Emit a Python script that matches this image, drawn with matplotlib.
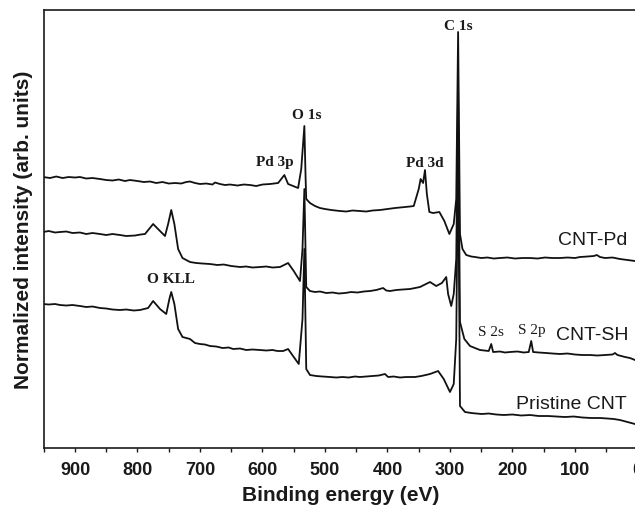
import matplotlib
matplotlib.use("Agg")
import matplotlib.pyplot as plt
from matplotlib.ticker import MultipleLocator

# ---- data (binding energy in eV, normalized intensity in arb. units) ----
pd_energy = [951, 940, 930, 920, 910, 900, 892, 882, 872, 860, 850, 840, 830, 820, 812,
             800, 790, 780, 770, 760, 750, 740, 730, 722, 716, 708, 700, 690, 680, 676,
             668, 660, 652, 640, 630, 620, 610, 600, 588, 575,
             565, 559, 551, 543, 538, 533, 531, 530,
             524, 516, 508, 500, 490, 476, 466, 456, 444, 434, 424, 412, 400, 388, 380,
             372, 364, 358,
             350, 347, 343, 340, 337, 333, 327, 317, 309, 301, 294, 290, 287, 284, 280,
             274, 266, 260, 250, 240, 230, 220, 208, 196, 184, 172, 160, 148, 136, 124,
             112, 100, 92, 80, 70, 65, 60, 52, 40, 28, 16, 4]
pd_intensity = [271, 270, 271.5, 270, 271, 270.5, 271, 269.5, 270, 269, 268, 267.5, 268.5, 267, 268,
                267, 266, 266.5, 265, 266, 264.5, 265, 264.5, 266, 266.5, 265, 264, 264.5, 263.5, 265.5,
                264, 263, 263.5, 262.5, 263.5, 263, 262, 263.5, 264, 265,
                273, 264, 262, 260, 279, 322, 269, 249,
                245, 242, 240, 239, 238, 237, 236.5, 237.5, 237, 236.5, 237.5, 238, 239, 240, 240.5,
                241, 241.5, 242,
                259, 269, 265, 278, 254, 236, 235, 236, 227, 214, 224, 249, 416, 214, 199,
                193, 191.5, 191, 190, 190.5, 189.5, 190, 190.5, 189.5, 190, 190, 189.5, 190.5, 190, 190,
                190.5, 190, 191, 191.5, 192, 193, 191, 190, 190.5, 189, 188, 187]

sh_energy = [951, 942, 932, 924, 914, 904, 892, 882, 872, 860, 850, 840, 828, 818, 804,
             795, 788, 775, 764, 756, 751, 746, 741, 735, 728,
             716, 706, 696, 684, 672, 662, 650, 636, 626, 616, 604, 594, 584, 572,
             559, 550, 540, 536, 533, 530,
             524, 516, 508, 498, 488, 478, 468, 458, 448, 438, 428, 418, 407, 402, 396,
             386, 376, 364, 356, 348,
             332, 322, 313, 306, 303, 298, 294, 290, 287, 284, 277, 268, 252, 238, 234,
             231, 220, 212, 204, 192, 182, 174, 170, 167, 158, 146, 136, 124, 112, 100,
             88, 76, 64, 52, 40, 36, 32, 20, 12, 4]
sh_intensity = [216, 217, 215.5, 216, 216.5, 215, 215.5, 214, 215, 214, 213, 214, 213, 212, 212.5,
                213.5, 214, 224, 217, 212, 224, 238, 224, 199, 190,
                186, 185, 184.5, 184, 183, 183.5, 182, 181, 181.5, 180.5, 181, 181.5, 180.5, 181,
                185, 177, 167, 199, 259, 161,
                157, 156, 156.5, 155, 155.5, 154.5, 155, 156, 155.5, 156.5, 157, 158, 160, 157.5, 157,
                158, 158.5, 159, 160, 161,
                166, 162, 165, 171, 154, 142, 154, 189, 359, 126, 109, 102, 98, 97, 104,
                96, 96.5, 95.5, 96, 96.5, 95.5, 96, 107, 96, 95.5, 95, 94.5, 94, 94.5, 93.5,
                93, 93, 92.5, 93, 93.5, 95, 93, 91, 90, 88]

pr_energy = [951, 942, 932, 924, 914, 904, 892, 882, 872, 860, 850, 840, 828, 818, 806,
             796, 783, 775, 764, 754, 749, 746, 741, 735, 728,
             716, 712, 708, 700, 692, 684, 674, 664, 654, 647, 636, 626, 616, 604, 594,
             584, 576, 567, 559, 550, 542, 536, 533, 530,
             524, 514, 504, 492, 482, 472, 462, 452, 444, 434, 424, 414, 404, 399, 390,
             380, 370, 356, 346, 332,
             319, 310, 300, 294, 290, 287, 284,
             276, 266, 258, 249, 238, 226, 214, 200, 186, 172, 158, 143, 130, 116, 102,
             88, 74, 60, 48, 38, 28, 16, 4]
pr_intensity = [144, 143.5, 144, 143, 142.5, 143, 142, 141, 141.5, 140, 139.5, 138.5, 138, 138.5, 137.5,
                138, 140, 147, 139, 134, 149, 156, 144, 119, 111,
                109, 107, 105, 104, 103.5, 102, 101.5, 100, 100.5, 99, 99.5, 98, 98.5, 98, 97.5,
                98, 97, 97, 99, 91, 84, 129, 199, 79,
                73, 72, 71.5, 71, 70.5, 71, 70.5, 71.5, 71, 71.5, 72, 72.5, 74, 71, 71.5,
                70.5, 71, 71, 72, 74,
                77, 69, 56, 64, 109, 299, 42,
                36, 35, 34.5, 34, 34.5, 33.5, 33, 33.5, 32.5, 33, 32, 32, 31.5, 31, 31.5,
                30.5, 30, 30, 29.5, 29, 28, 26, 24]

peak_labels = ["O 1s", "Pd 3p", "C 1s", "Pd 3d", "O KLL", "S 2s", "S 2p"]
peak_x = [529, 580, 286, 340, 746, 234, 169]
peak_y = [334, 287, 423, 286, 170, 117, 119]
peak_weight = ["bold", "bold", "bold", "bold", "bold", "normal", "normal"]

series_labels = ["CNT-Pd", "CNT-SH", "Pristine CNT"]
series_label_x = [71, 73, 17]
series_label_y = [209, 114, 45]
series_label_ha = ["center", "center", "right"]

xticks = [900, 800, 700, 600, 500, 400, 300, 200, 100, 0]

# ---- figure ----
fig = plt.figure(figsize=(6.35, 5.10), dpi=100)
ax = fig.add_axes([0.0689, 0.1196, 0.935, 0.8588])

for e, i in [(pd_energy, pd_intensity), (sh_energy, sh_intensity), (pr_energy, pr_intensity)]:
    ax.plot(e, i, color="#111111", lw=1.3)

ax.set_xlim(950, 0)
ax.set_ylim(0, 438)

ax.xaxis.set_minor_locator(MultipleLocator(50))
ax.set_xticks(xticks)
ax.set_xticklabels([str(t) for t in xticks])
ax.tick_params(axis="x", which="both", direction="out", length=2.6, width=1.0,
               pad=7, labelsize=13, colors="#1a1a1a")
for lab in ax.get_xticklabels():
    lab.set_fontfamily("Liberation Sans")
    lab.set_fontweight("bold")
ax.set_yticks([])

for sp in ax.spines.values():
    sp.set_linewidth(1.2)
    sp.set_color("#1a1a1a")
ax.spines["right"].set_color("#cccccc")

ax.set_xlabel("Binding energy (eV)", fontsize=15, fontweight="bold",
              family="Liberation Sans", labelpad=5, color="#1a1a1a")
ax.set_ylabel("Normalized intensity (arb. units)", fontsize=15, fontweight="bold",
              family="Liberation Sans", labelpad=8, color="#1a1a1a")

for t, x, y, w in zip(peak_labels, peak_x, peak_y, peak_weight):
    ax.text(x, y, t, ha="center", va="center", fontsize=11, fontweight=w,
            family="Liberation Serif", color="#1a1a1a")

for t, x, y, h in zip(series_labels, series_label_x, series_label_y, series_label_ha):
    ax.text(x, y, t, ha=h, va="center", fontsize=14, family="Liberation Sans",
            color="#1a1a1a")

fig.savefig("out.png", dpi=100)
